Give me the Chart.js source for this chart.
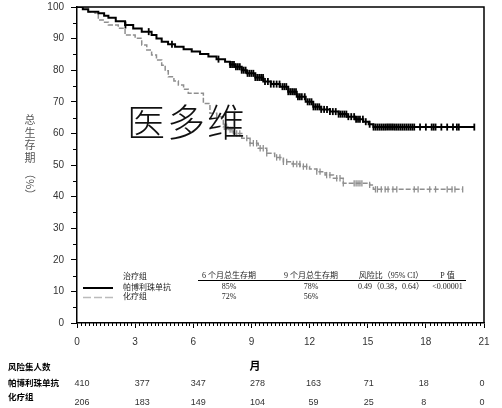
<!DOCTYPE html>
<html><head><meta charset="utf-8">
<script src="https://cdn.jsdelivr.net/npm/chart.js@4.4.0/dist/chart.umd.min.js"></script>
<style>html,body{margin:0;padding:0;background:#fff;overflow:hidden}#wrap{width:502px;height:408px;position:relative}canvas{display:block}</style>
</head><body><div id="wrap"><canvas id="c" width="502" height="408" style="width:502px;height:408px"></canvas></div>
<script>
// ---- data ----
const pembroTime = [0, 0.3, 0.58, 1.1, 1.4, 1.62, 2.0, 2.48, 2.9, 3.34, 3.85, 4.1, 4.37, 4.7, 5.06, 5.5, 5.92, 6.35, 6.78, 7.2, 7.64, 7.89, 8.15, 8.5, 8.76, 9.2, 9.61, 10.0, 10.47, 10.9, 11.34, 11.8, 12.19, 12.6, 13.05, 13.5, 13.92, 14.35, 14.77, 15.05, 15.29, 20.5];
const pembroSurv = [100, 99.3, 98.5, 98.0, 97.2, 96.6, 95.5, 94.3, 93.2, 92.2, 91.1, 90.0, 89.0, 88.2, 87.4, 86.6, 85.9, 85.1, 84.3, 83.5, 82.7, 81.8, 81.1, 80.0, 79.0, 77.7, 76.4, 75.6, 74.8, 73.2, 71.6, 70.0, 68.4, 67.6, 66.9, 66.1, 65.3, 64.5, 63.7, 62.9, 62.0, 62.0];
const chemoTime = [0, 0.58, 0.93, 1.10, 1.35, 1.62, 2.13, 2.48, 3.0, 3.34, 3.6, 3.85, 4.1, 4.37, 4.55, 4.71, 5.0, 5.23, 5.5, 5.74, 6.52, 6.86, 7.21, 7.55, 7.8, 8.07, 8.5, 8.93, 9.35, 9.79, 10.2, 10.65, 11.1, 11.51, 12.0, 12.37, 12.8, 13.23, 13.74, 15.1, 15.29, 19.9];
const chemoSurv = [100, 98.5, 98.0, 95.9, 95.2, 94.3, 93.3, 91.1, 90.1, 88.0, 86.4, 84.8, 83.2, 81.6, 79.8, 77.9, 76.6, 75.3, 74.0, 72.7, 69.5, 66.4, 65.3, 62.1, 61.2, 60.0, 58.5, 56.9, 55.3, 53.7, 52.4, 51.0, 50.3, 49.5, 48.7, 47.9, 46.8, 45.8, 44.2, 43.7, 42.3, 42.3];
const pembroCensor = [2.5, 3.7, 4.9, 7.3, 7.9, 8.0, 8.1, 8.2, 8.3, 8.4, 8.5, 8.6, 8.7, 8.8, 8.9, 9.0, 9.1, 9.2, 9.3, 9.4, 9.5, 9.6, 9.7, 9.85, 10.0, 10.15, 10.3, 10.45, 10.6, 10.7, 10.8, 10.9, 11.0, 11.1, 11.2, 11.3, 11.4, 11.5, 11.6, 11.75, 11.9, 12.0, 12.1, 12.2, 12.3, 12.4, 12.5, 12.6, 12.75, 12.9, 13.05, 13.2, 13.35, 13.5, 13.6, 13.7, 13.8, 13.9, 14.0, 14.15, 14.3, 14.4, 14.5, 14.6, 14.75, 14.9, 15.1, 15.3, 15.4, 15.5, 15.6, 15.7, 15.8, 15.9, 16.0, 16.1, 16.2, 16.3, 16.4, 16.5, 16.6, 16.7, 16.8, 16.9, 17.0, 17.1, 17.2, 17.3, 17.4, 17.7, 18.0, 18.3, 18.4, 18.5, 18.8, 19.1, 19.4, 19.6, 19.7, 20.5];
const chemoCensor = [7.6, 7.72, 7.9, 8.0, 8.24, 8.4, 8.76, 8.93, 9.1, 9.27, 9.45, 9.61, 9.79, 10.3, 10.47, 10.65, 10.82, 11.16, 11.34, 11.5, 11.68, 11.85, 12.37, 12.54, 12.88, 13.05, 13.4, 13.57, 13.74, 14.3, 14.4, 14.5, 14.6, 14.7, 15.1, 15.4, 15.5, 15.7, 15.9, 16.05, 16.3, 16.5, 17.4, 17.6, 18.2, 18.5, 19.1, 19.35, 19.5, 19.9];
const xTickValues = [0, 3, 6, 9, 12, 15, 18, 21];
const riskPembro = [410, 377, 347, 278, 163, 71, 18, 0];
const riskChemo = [206, 183, 149, 104, 59, 25, 8, 0];
const groupTitle = '治疗组';
const groupNames = ['帕博利珠单抗', '化疗组'];
const statHeaders = ['6 个月总生存期', '9 个月总生存期', '风险比（95% CI）', 'P 值'];
const pembroStats = ['85%', '78%', '0.49（0.38，0.64）', '<0.00001'];
const chemoStats = ['72%', '56%', '', ''];
const yTitleChars = ['总', '生', '存', '期'];
const yTitleUnit = '（%）';
const riskTitle = '风险集人数';
const xTitle = '月';
const watermark = ['医', '多', '维'];

// ---- helpers ----
function toXY(t, s) { return t.map((v, i) => ({ x: v, y: s[i] })); }
function survAt(t, s, x) { let v = s[0]; for (let i = 0; i < t.length; i++) { if (t[i] <= x) v = s[i]; } return v; }
function censorXY(ct, t, s) { return ct.map(x => ({ x: x, y: survAt(t, s, x) })); }

const BLACK = '#000';
const GRAY = '#8f8f8f';
const CJK = '"Noto Sans CJK SC"';

const decor = {
  id: 'decor',
  afterDraw(chart) {
    const ctx = chart.ctx, ca = chart.chartArea, xs = chart.scales.x, ys = chart.scales.y;
    ctx.save();
    // frame top/right
    ctx.strokeStyle = BLACK; ctx.lineWidth = 1.5;
    ctx.beginPath(); ctx.moveTo(ca.left, ca.top); ctx.lineTo(ca.right, ca.top); ctx.lineTo(ca.right, ca.bottom); ctx.stroke();
    // minor ticks
    ctx.lineWidth = 1;
    ctx.beginPath();
    for (let k = 0; k <= 105; k++) {
      if (k % 15 === 0) continue;
      const px = Math.round(xs.getPixelForValue(k * 0.2)) + 0.5;
      ctx.moveTo(px, ca.bottom); ctx.lineTo(px, ca.bottom + 3);
    }
    for (let v = 5; v < 100; v += 10) {
      const py = Math.round(ys.getPixelForValue(v)) + 0.5;
      ctx.moveTo(ca.left, py); ctx.lineTo(ca.left - 4, py);
    }
    ctx.stroke();

    // y title
    ctx.fillStyle = '#555';
    ctx.font = '11px ' + CJK;
    ctx.textAlign = 'center'; ctx.textBaseline = 'middle';
    yTitleChars.forEach((c, i) => ctx.fillText(c, 30, 120 + i * 12.5));
    ctx.save(); ctx.translate(30, 184); ctx.rotate(Math.PI / 2); ctx.fillText(yTitleUnit, 0, 0); ctx.restore();

    // watermark
    ctx.fillStyle = '#111';
    ctx.font = '300 38px ' + CJK;
    ctx.textAlign = 'left'; ctx.textBaseline = 'middle';
    watermark.forEach((c, i) => ctx.fillText(c, 127 + i * 40, 122));

    // legend / stats table
    ctx.fillStyle = '#222';
    ctx.font = '8px "Liberation Serif", ' + CJK;
    ctx.textAlign = 'left';
    ctx.fillText(groupTitle, 123, 277);
    ctx.fillText(groupNames[0], 123, 287.5);
    ctx.fillText(groupNames[1], 123, 297);
    ctx.strokeStyle = BLACK; ctx.lineWidth = 2; ctx.setLineDash([]);
    ctx.beginPath(); ctx.moveTo(83, 288); ctx.lineTo(113, 288); ctx.stroke();
    ctx.strokeStyle = '#bbb'; ctx.lineWidth = 1.5; ctx.setLineDash([8, 3]);
    ctx.beginPath(); ctx.moveTo(83, 297.5); ctx.lineTo(113, 297.5); ctx.stroke();
    ctx.setLineDash([]);
    const cols = [229, 311, 391, 447.5];
    ctx.textAlign = 'center';
    statHeaders.forEach((h, i) => ctx.fillText(h, cols[i], 275.5));
    ctx.strokeStyle = BLACK; ctx.lineWidth = 1;
    ctx.beginPath(); ctx.moveTo(198, 280.5); ctx.lineTo(466, 280.5); ctx.stroke();
    pembroStats.forEach((h, i) => ctx.fillText(h, cols[i], 287));
    chemoStats.forEach((h, i) => ctx.fillText(h, cols[i], 297));

    // risk table
    ctx.fillStyle = '#000';
    ctx.textAlign = 'left';
    ctx.font = 'bold 8.5px ' + CJK;
    ctx.fillText(riskTitle, 8, 367);
    ctx.fillText(groupNames[0], 8, 383);
    ctx.fillText(groupNames[1], 8, 397);
    ctx.font = 'bold 11px ' + CJK;
    ctx.textAlign = 'center';
    ctx.fillText(xTitle, 255, 366);
    ctx.fillStyle = '#333';
    ctx.font = '9px "Liberation Sans"';
    const dx = [5, 7, 5, 6, 4, 1, -2, -2];
    xTickValues.forEach((t, i) => {
      const px = xs.getPixelForValue(t) + dx[i];
      ctx.fillText(String(riskPembro[i]), px, 383.5);
      ctx.fillText(String(riskChemo[i]), px, 403);
    });
    ctx.restore();
  }
};

new Chart(document.getElementById('c'), {
  type: 'line',
  data: {
    datasets: [
      { data: toXY(pembroTime, pembroSurv), stepped: true, borderColor: BLACK, borderWidth: 2, pointRadius: 0, fill: false },
      { data: toXY(chemoTime, chemoSurv), stepped: true, borderColor: GRAY, borderWidth: 1.5, borderDash: [5, 2], pointRadius: 0, fill: false },
      { data: censorXY(pembroCensor, pembroTime, pembroSurv), showLine: false, pointStyle: 'line', rotation: 90, pointRadius: 3.5, borderColor: BLACK, borderWidth: 1.8, pointBorderColor: BLACK },
      { data: censorXY(chemoCensor, chemoTime, chemoSurv), showLine: false, pointStyle: 'line', rotation: 90, pointRadius: 3.2, borderColor: GRAY, borderWidth: 1.3, pointBorderColor: GRAY }
    ]
  },
  options: {
    responsive: false,
    animation: false,
    devicePixelRatio: 1,
    layout: { padding: { top: 7, right: 18, left: 0, bottom: 0 } },
    plugins: { legend: { display: false }, tooltip: { enabled: false } },
    scales: {
      x: {
        type: 'linear', min: 0, max: 21,
        afterBuildTicks: s => { s.ticks = xTickValues.map(v => ({ value: v })); },
        afterFit: s => { s.height = 85; s.paddingLeft = 0; s.paddingRight = 0; },
        ticks: { color: '#333', font: { family: '"Liberation Sans"', size: 10 }, padding: 8, maxRotation: 0, autoSkip: false },
        grid: { drawOnChartArea: false, drawTicks: true, tickLength: 5, color: BLACK, lineWidth: 1 },
        border: { color: BLACK, width: 1.5 }
      },
      y: {
        type: 'linear', min: 0, max: 100,
        ticks: { stepSize: 10, color: '#333', font: { family: '"Liberation Sans"', size: 10 }, padding: 7 },
        afterFit: s => { s.width = 77; s.paddingTop = 0; s.paddingBottom = 0; },
        grid: { drawOnChartArea: false, drawTicks: true, tickLength: 6, color: BLACK, lineWidth: 1 },
        border: { color: BLACK, width: 1.5 }
      }
    }
  },
  plugins: [decor]
});
</script>
</body></html>
